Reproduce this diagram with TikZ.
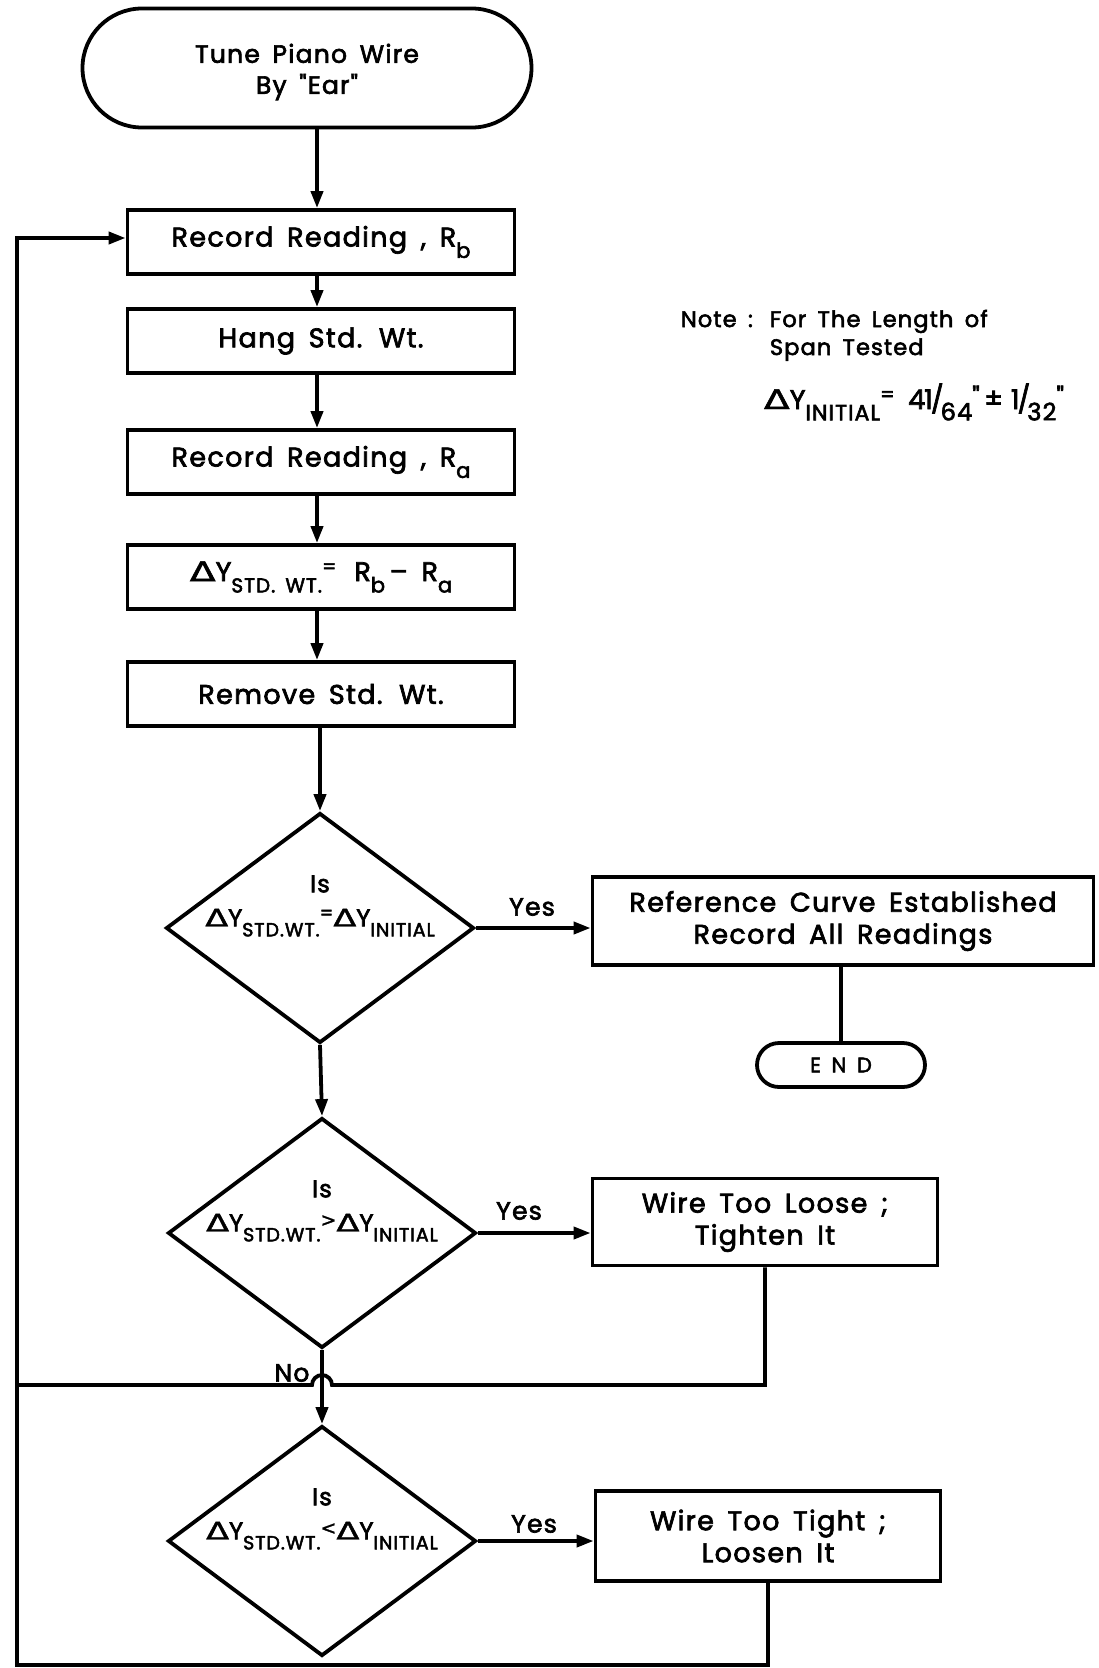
\documentclass[tikz,border=0pt]{standalone}
\usepackage{fontspec}
\usepackage{graphicx}
\setmainfont{Poppins}[Ligatures=TeXOff,LetterSpace=5,WordSpace=1.6,FakeBold=2.6]
\newfontfamily\dvfont{DejaVu Sans}[FakeBold=1.5]
\usetikzlibrary{shapes.geometric,shapes.misc,arrows.meta}
\newcommand\Dlt{{\dvfont\scalebox{1.4}[1]{Δ}}}
\newcommand\lsub[2]{\raisebox{-0.42em}{\fontsize{#1}{#1}\selectfont #2}}
\newcommand\hsup[2]{\raisebox{0.28em}{\fontsize{#1}{#1}\selectfont #2}}
\newcommand\relsym[1]{\raisebox{0.2em}{\fontsize{19}{19}\dvfont #1}}
\begin{document}
\begin{tikzpicture}[x=1pt,y=-1pt,line width=3.8pt,
  box/.style={draw,rectangle,minimum width=387pt,minimum height=64pt,inner sep=0pt,
    font=\fontsize{27}{32}\selectfont,align=center},
  rbox/.style={draw,rectangle,inner sep=0pt,font=\fontsize{27}{32}\selectfont,align=center},
  term/.style={draw,rounded rectangle,inner sep=0pt,align=center},
  dia/.style={draw,diamond,minimum width=308pt,minimum height=230pt,inner sep=0pt},
  dtext/.style={font=\fontsize{24}{30}\selectfont,align=center,inner sep=0pt},
  lbl/.style={font=\fontsize{25}{28}\selectfont,inner sep=0pt},
  notetxt/.style={font=\fontsize{22.5}{28}\selectfont,inner sep=0pt,align=left},
  arr/.style={-{Triangle[length=17pt,width=12pt]}}]
\useasboundingbox (0,0) rectangle (1099,1668);

% main column
\node[term,minimum width=449pt,minimum height=119pt] (start) at (307,68) {};
\node[inner sep=0pt,align=center,font=\fontsize{25}{31}\selectfont] (startt) at ([yshift=-4pt]start.center) {Tune Piano Wire\\By "Ear"};
\node[box] (b1) at (321,242) {Record Reading , R\lsub{21}{b}};
\node[box] (b2) at (321,341) {Hang Std. Wt.};
\node[box] (b3) at (321,462) {Record Reading , R\lsub{21}{a}};
\node[box] (b4) at (321,577) {\Dlt Y\lsub{20}{STD. WT.}\hsup{20}{=}\hspace{18pt}R\lsub{21}{b}\,– R\lsub{21}{a}};
\node[box] (b5) at (321,694) {Remove Std. Wt.};

\node[dia] (d1) at (320,928) {};
\node[dia] (d2) at (322,1233) {};
\node[dia] (d3) at (322,1541) {};
\node[dtext] (t1) at ([yshift=22pt]d1.center) {Is\\[4pt]\Dlt Y\lsub{19}{STD.WT.}\hsup{19}{=}\Dlt Y\lsub{19}{INITIAL}};
\node[dtext] (t2) at ([yshift=22pt]d2.center) {Is\\[4pt]\Dlt Y\lsub{19}{STD.WT.}\relsym{>}\Dlt Y\lsub{19}{INITIAL}};
\node[dtext] (t3) at ([yshift=22pt]d3.center) {Is\\[4pt]\Dlt Y\lsub{19}{STD.WT.}\relsym{<}\Dlt Y\lsub{19}{INITIAL}};

% right column
\node[rbox,minimum width=501pt,minimum height=88pt] (ref) at (843,921) {Reference Curve Established\\Record All Readings};
\node[term,minimum width=168pt,minimum height=44pt,font=\fontsize{21}{24}\selectfont] (endn) at (841,1065) {E N D};
\node[rbox,minimum width=345pt,minimum height=87pt] (loose) at (765,1222) {Wire Too Loose ;\\Tighten It};
\node[rbox,minimum width=345pt,minimum height=90pt] (tight) at (768,1536) {Wire Too Tight ;\\Loosen It};

% note
\node[notetxt,anchor=base west] (note1) at (679,327) {Note :};
\node[notetxt,anchor=base west] (note2) at (768,327) {For The Length of};
\node[notetxt,anchor=base west] (note3) at (768,355) {Span Tested};
\node[anchor=base west,inner sep=0pt,font=\fontsize{27}{30}\selectfont] (eq) at (762,409)
  {\Dlt Y\lsub{22}{INITIAL}\hsup{20}{=} 4\kern-1pt1\kern-2pt/\kern-3pt\lsub{24}{64}\raisebox{0.1em}{\fontsize{26}{26}\selectfont "}\,\raisebox{0.05em}{±}\hspace{8pt}1\kern-2pt/\kern-3pt\lsub{24}{32}\raisebox{0.1em}{\fontsize{26}{26}\selectfont "}};

% labels
\node[lbl] (y1) at (532,907) {Yes};
\node[lbl] (y2) at (519,1211) {Yes};
\node[lbl] (y3) at (534,1524) {Yes};
\node[lbl] (no) at (292,1373) {No};

% connectors
\coordinate (col) at (317,0);
\draw[arr] (start.south -| col) -- (b1.north -| col);
\draw[arr] (b1.south -| col) -- (b2.north -| col);
\draw[arr] (b2.south -| col) -- (b3.north -| col);
\draw[arr] (b3.south -| col) -- (b4.north -| col);
\draw[arr] (b4.south -| col) -- (b5.north -| col);
\draw[arr] (b5.south -| d1.north) -- (d1.north);
\draw[arr] (d1.south) -- (d2.north);
\draw[arr] (d2.south) -- (d3.north);
\draw[arr] (d1.east) -- (d1.east -| ref.west);
\draw[arr] (d2.east) -- (d2.east -| loose.west);
\draw[arr] (d3.east) -- (d3.east -| tight.west);
\draw (ref.south -| endn.north) -- (endn.north);

\coordinate (lp) at (17,1385);
\coordinate (bl) at (17,1665);
\draw (loose.south) |- ([xshift=10pt]d2.south |- lp) arc[start angle=0,end angle=180,radius=10pt] -- (lp);
\draw[arr] (tight.south) |- (bl) |- ([yshift=4pt]b1.west);
\end{tikzpicture}
\end{document}
